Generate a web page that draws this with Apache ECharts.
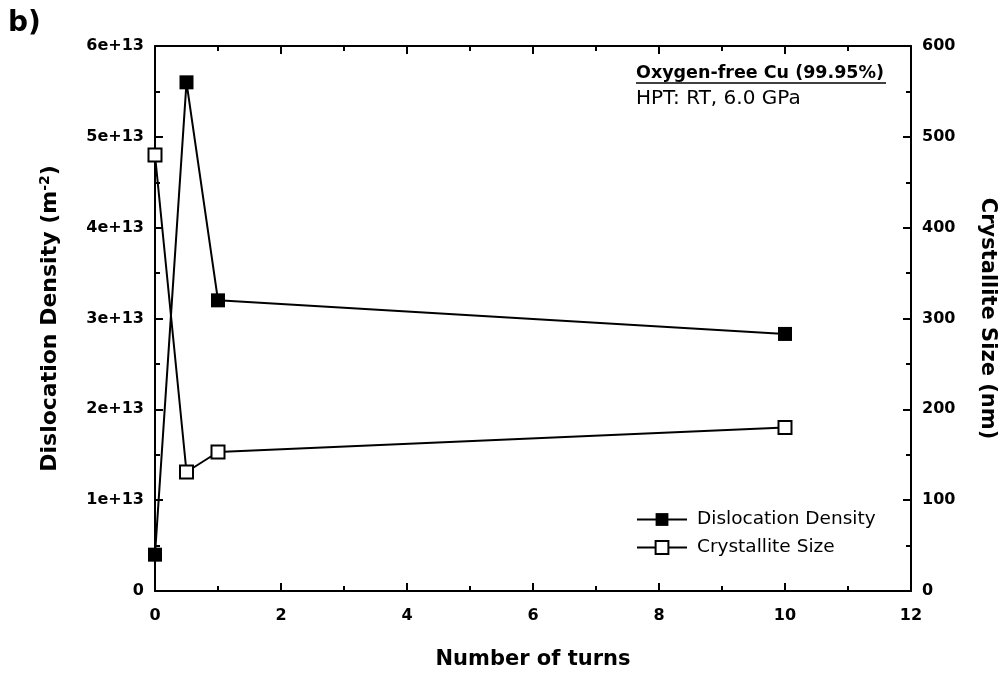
<!DOCTYPE html>
<html>
<head>
<meta charset="utf-8">
<script src="https://cdn.jsdelivr.net/npm/echarts@6/dist/echarts.min.js"></script>
<style>
  html, body { margin: 0; padding: 0; background: #fff; }
  #chart { width: 1006px; height: 679px; }
</style>
</head>
<body>
<div id="chart"></div>
<script>
// Number of HPT turns
const turns = [0, 0.5, 1, 10];
// Dislocation density (m^-2)
const dislocationDensity = [4.0e12, 5.6e13, 3.2e13, 2.83e13];
// Crystallite size (nm)
const crystalliteSize = [480, 131, 153, 180];

const FONT = '"DejaVu Sans", Verdana, sans-serif';

const chart = echarts.init(document.getElementById('chart'), null, { renderer: 'canvas' });

const axisLineStyle = { color: '#000', width: 2 };
const tickStyle = { color: '#000', width: 2 };

function densityLabel(v) {
  if (v === 0) return '0';
  return Math.round(v / 1e13) + 'e+13';
}

const option = {
  backgroundColor: '#fff',
  animation: false,
  grid: { left: 155, right: 94, top: 46, bottom: 88 },
  xAxis: [
    {
      type: 'value', min: 0, max: 12, interval: 2,
      name: 'Number of turns', nameLocation: 'middle', nameGap: 58,
      nameTextStyle: { fontFamily: FONT, fontWeight: 'bold', fontSize: 21, color: '#000' },
      axisLine: { show: true, onZero: false, lineStyle: axisLineStyle },
      axisTick: { show: true, inside: true, length: 8, lineStyle: tickStyle },
      minorTick: { show: true, splitNumber: 2, length: 5, lineStyle: tickStyle },
      axisLabel: { fontFamily: FONT, fontWeight: 'bold', fontSize: 16, color: '#000', margin: 17 },
      splitLine: { show: false }
    },
    {
      type: 'value', min: 0, max: 12, interval: 2, position: 'top',
      axisLine: { show: true, onZero: false, lineStyle: axisLineStyle },
      axisTick: { show: true, inside: true, length: 8, lineStyle: tickStyle },
      minorTick: { show: true, splitNumber: 2, length: 5, lineStyle: tickStyle },
      axisLabel: { show: false },
      splitLine: { show: false }
    }
  ],
  yAxis: [
    {
      type: 'value', min: 0, max: 6e13, interval: 1e13, position: 'left',
      name: '{t|Dislocation Density (m}{s|-2}{t|)}',
      nameLocation: 'middle', nameGap: 92, nameRotate: 90,
      nameTextStyle: {
        rich: {
          t: { fontFamily: FONT, fontWeight: 'bold', fontSize: 22, color: '#000' },
          s: { fontFamily: FONT, fontWeight: 'bold', fontSize: 14, color: '#000', verticalAlign: 'top', padding: [0, 0, 11, 0] }
        }
      },
      axisLine: { show: true, onZero: false, lineStyle: axisLineStyle },
      axisTick: { show: true, inside: true, length: 8, lineStyle: tickStyle },
      minorTick: { show: true, splitNumber: 2, length: 5, lineStyle: tickStyle },
      axisLabel: { fontFamily: FONT, fontWeight: 'bold', fontSize: 16, color: '#000', margin: 11, formatter: densityLabel },
      splitLine: { show: false }
    },
    {
      type: 'value', min: 0, max: 600, interval: 100, position: 'right',
      name: 'Crystallite Size (nm)',
      nameLocation: 'middle', nameGap: 66, nameRotate: -90,
      nameTextStyle: { fontFamily: FONT, fontWeight: 'bold', fontSize: 21, color: '#000' },
      axisLine: { show: true, onZero: false, lineStyle: axisLineStyle },
      axisTick: { show: true, inside: true, length: 8, lineStyle: tickStyle },
      minorTick: { show: true, splitNumber: 2, length: 5, lineStyle: tickStyle },
      axisLabel: { fontFamily: FONT, fontWeight: 'bold', fontSize: 16, color: '#000', margin: 11 },
      splitLine: { show: false }
    }
  ],
  legend: {
    orient: 'vertical',
    left: 636, top: 510, padding: 0,
    itemWidth: 50, itemHeight: 16, itemGap: 9,
    textStyle: { fontFamily: FONT, fontSize: 18.5, color: '#000', padding: [0, 0, 0, 5] },
    data: ['Dislocation Density', 'Crystallite Size']
  },
  series: [
    {
      name: 'Crystallite Size', type: 'line', xAxisIndex: 0, yAxisIndex: 1,
      data: turns.map((t, i) => [t, crystalliteSize[i]]),
      symbol: 'rect', symbolSize: 13, showAllSymbol: true,
      lineStyle: { color: '#000', width: 2 },
      itemStyle: { color: '#fff', borderColor: '#000', borderWidth: 2 },
      z: 3
    },
    {
      name: 'Dislocation Density', type: 'line', xAxisIndex: 0, yAxisIndex: 0,
      data: turns.map((t, i) => [t, dislocationDensity[i]]),
      symbol: 'rect', symbolSize: 14, showAllSymbol: true,
      lineStyle: { color: '#000', width: 2 },
      itemStyle: { color: '#000', borderColor: '#000', borderWidth: 0 },
      z: 4
    }
  ],
  graphic: [
    {
      type: 'text', left: 8, top: 10,
      style: { text: 'b)', fontFamily: FONT, fontWeight: 'bold', fontSize: 28, fill: '#000' }
    },
    {
      type: 'text', x: 636, y: 73,
      style: { text: 'Oxygen-free Cu (99.95%)', fontFamily: FONT, fontWeight: 'bold', fontSize: 17.5, fill: '#000', verticalAlign: 'middle' }
    },
    {
      type: 'line',
      shape: { x1: 636, y1: 83, x2: 886, y2: 83 },
      style: { stroke: '#000', lineWidth: 1.5 }
    },
    {
      type: 'text', x: 636, y: 99,
      style: { text: 'HPT: RT, 6.0 GPa', fontFamily: FONT, fontSize: 20, fill: '#000', verticalAlign: 'middle' }
    }
  ]
};

chart.setOption(option);
</script>
</body>
</html>
